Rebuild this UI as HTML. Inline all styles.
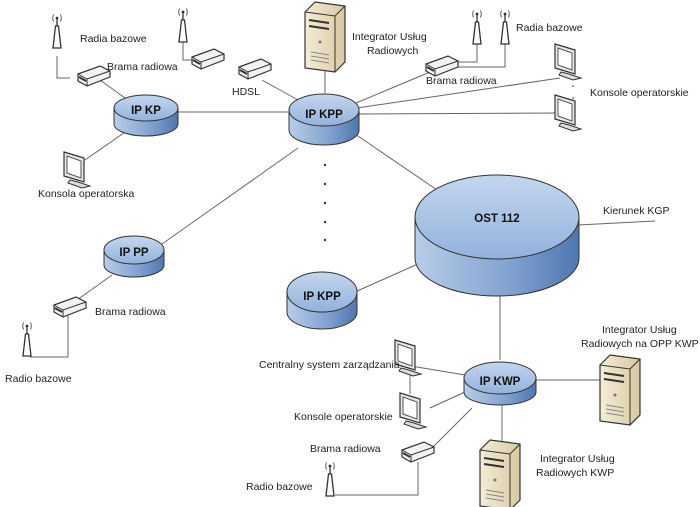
<!DOCTYPE html>
<html><head><meta charset="utf-8"><style>
body{margin:0;background:#fff}
svg{display:block}
text{font-family:"Liberation Sans",sans-serif;font-size:10.5px;fill:#222}
.b{font-weight:bold;font-size:11.5px;fill:#111}
</style></head><body>
<svg width="700" height="507" viewBox="0 0 700 507" xmlns="http://www.w3.org/2000/svg">
<defs>
<linearGradient id="top" x1="0" y1="0" x2="0" y2="1"><stop offset="0" stop-color="#c4d6ee"/><stop offset="1" stop-color="#92b2dc"/></linearGradient>
<linearGradient id="side" x1="0" y1="0" x2="1" y2="0"><stop offset="0" stop-color="#b8cde8"/><stop offset="0.6" stop-color="#7fa0cf"/><stop offset="1" stop-color="#4f76b0"/></linearGradient>
<linearGradient id="srv" x1="0" y1="0" x2="1" y2="0"><stop offset="0" stop-color="#f4ecd6"/><stop offset="1" stop-color="#d8c9a2"/></linearGradient>
<g id="router"><path d="M0,8 L22,0 L32,5 L32,11 L9,20 L0,15Z" fill="#f2f2f2" stroke="#333" stroke-width="1.2"/><path d="M0,8 L9,13 L32,5 M9,13 L9,20" fill="none" stroke="#333"/><path d="M1,11 L8,15" stroke="#333" stroke-width="2"/></g>
<g id="ant"><path d="M-4,30 L-1.5,8 L1.5,8 L4,30Z" fill="#fff" stroke="#333" stroke-width="1.3"/><line x1="0" y1="8" x2="0" y2="0" stroke="#333" stroke-width="1.3"/><circle cx="0" cy="0" r="1.4" fill="#333"/><path d="M-3.5,-3.5 Q-5,0 -3.5,3.5 M3.5,-3.5 Q5,0 3.5,3.5" fill="none" stroke="#333" stroke-width="0.8"/></g>
<g id="mon"><path d="M0,0 L20,6 L20,30 L0,24Z" fill="#e8e8e8" stroke="#333" stroke-width="1.2"/><path d="M3,4 L17,9 L17,26 L3,21Z" fill="#fff" stroke="#555"/><path d="M6,28 L14,30 L26,34 L18,36 L4,31Z" fill="#ddd" stroke="#333"/></g>
<g id="srvr"><path d="M0,10 L10,0 L40,4 L40,60 L30,70 L0,66Z" fill="url(#srv)" stroke="#333" stroke-width="1.2"/><path d="M0,10 L30,14 L40,4 M30,14 L30,70" fill="none" stroke="#333"/><path d="M4,18 L24,21 M4,24 L24,27" stroke="#333" stroke-width="2"/><circle cx="15" cy="40" r="1.5" fill="#777"/><path d="M6,50 L24,53 M6,54 L24,57 M6,58 L24,61" stroke="#888"/></g>
</defs>
<g stroke="#666" stroke-width="1" fill="none">
<line x1="178" y1="112" x2="288" y2="112"/>
<line x1="125" y1="98" x2="100" y2="80"/>
<polyline points="57,56 57,78 70,78"/>
<line x1="128" y1="130" x2="85" y2="160"/>
<line x1="262" y1="80" x2="298" y2="100"/>
<polyline points="183,40 183,60 195,60"/>
<line x1="325" y1="70" x2="325" y2="93"/>
<polyline points="477,43 477,62 450,62"/>
<polyline points="505,43 505,67 455,67"/>
<line x1="356" y1="103" x2="430" y2="72"/>
<line x1="357" y1="108" x2="560" y2="78"/>
<line x1="357" y1="114" x2="560" y2="113"/>
<line x1="352" y1="132" x2="440" y2="192"/>
<line x1="298" y1="148" x2="162" y2="244"/>
<line x1="578" y1="225" x2="655" y2="221"/>
<line x1="420" y1="263" x2="355" y2="292"/>
<line x1="500" y1="295" x2="500" y2="360"/>
<line x1="112" y1="275" x2="77" y2="300"/>
<polyline points="68,315 68,357 30,357"/>
<line x1="405" y1="365" x2="465" y2="375"/>
<line x1="410" y1="375" x2="410" y2="394"/>
<line x1="430" y1="408" x2="465" y2="392"/>
<line x1="430" y1="450" x2="472" y2="408"/>
<line x1="535" y1="380" x2="600" y2="380"/>
<line x1="502" y1="405" x2="502" y2="445"/>
<polyline points="418,462 418,495 335,495"/>
</g>
<g fill="#333"><circle cx="325" cy="165" r="1.2"/><circle cx="325" cy="184" r="1.2"/><circle cx="325" cy="203" r="1.2"/><circle cx="325" cy="222" r="1.2"/><circle cx="325" cy="240" r="1.2"/><circle cx="573" cy="86" r="0.8"/><circle cx="573" cy="98" r="0.8"/></g>
<g stroke="#333" stroke-width="1">
<path d="M114,108 L114,124 A32,12 0 0 0 178,124 L178,108Z" fill="url(#side)"/><ellipse cx="146" cy="108" rx="32" ry="13" fill="url(#top)"/>
<path d="M289,110 L289,130 A35,15 0 0 0 359,130 L359,110Z" fill="url(#side)"/><ellipse cx="324" cy="110" rx="35" ry="16" fill="url(#top)"/>
<path d="M104,250 L104,265 A30,12 0 0 0 164,265 L164,250Z" fill="url(#side)"/><ellipse cx="134" cy="250" rx="30" ry="14" fill="url(#top)"/>
<path d="M287,292 L287,312 A35,17 0 0 0 357,312 L357,292Z" fill="url(#side)"/><ellipse cx="322" cy="292" rx="35" ry="20" fill="url(#top)"/>
<path d="M464,378 L464,392 A36,13 0 0 0 536,392 L536,378Z" fill="url(#side)"/><ellipse cx="500" cy="378" rx="36" ry="16" fill="url(#top)"/>
<path d="M415,217 L415,258 A82,38 0 0 0 579,258 L579,217Z" fill="url(#side)"/><ellipse cx="497" cy="217" rx="82" ry="42" fill="url(#top)"/>
</g>
<text class="b" x="146" y="114" text-anchor="middle">IP KP</text>
<text class="b" x="324" y="118" text-anchor="middle">IP KPP</text>
<text class="b" x="134" y="256" text-anchor="middle">IP PP</text>
<text class="b" x="322" y="300" text-anchor="middle">IP KPP</text>
<text class="b" x="500" y="385" text-anchor="middle">IP KWP</text>
<text class="b" x="497" y="222" text-anchor="middle">OST 112</text>
<use href="#ant" x="57" y="18"/><use href="#router" x="78" y="66"/>
<use href="#ant" x="183" y="12"/><use href="#router" x="192" y="49"/><use href="#router" x="239" y="59"/>
<use href="#srvr" x="305" y="2"/>
<use href="#ant" x="477" y="14"/><use href="#ant" x="505" y="14"/><use href="#router" x="426" y="56"/>
<use href="#mon" x="555" y="44"/><use href="#mon" x="555" y="95"/>
<use href="#mon" x="64" y="152"/>
<use href="#router" x="54" y="297"/><use href="#ant" x="27" y="326"/>
<use href="#mon" x="400" y="393"/><use href="#mon" x="395" y="340"/>
<use href="#router" x="402" y="442"/><use href="#ant" x="330" y="466"/>
<use href="#srvr" x="600" y="355"/><use href="#srvr" x="480" y="440"/>
<text x="80" y="42">Radia bazowe</text>
<text x="107" y="70">Brama radiowa</text>
<text x="232" y="95">HDSL</text>
<text x="38" y="197">Konsola operatorska</text>
<text x="352" y="40">Integrator Usług</text>
<text x="367" y="54">Radiowych</text>
<text x="516" y="31">Radia bazowe</text>
<text x="426" y="84">Brama radiowa</text>
<text x="590" y="96">Konsole operatorskie</text>
<text x="603" y="214">Kierunek KGP</text>
<text x="95" y="315">Brama radiowa</text>
<text x="5" y="382">Radio bazowe</text>
<text x="259" y="368">Centralny system zarządzania</text>
<text x="294" y="420">Konsole operatorskie</text>
<text x="310" y="452">Brama radiowa</text>
<text x="246" y="490">Radio bazowe</text>
<text x="602" y="333">Integrator Usług</text>
<text x="581" y="347">Radiowych na OPP KWP</text>
<text x="540" y="462">Integrator Usług</text>
<text x="536" y="476">Radiowych KWP</text>
</svg>
</body></html>
